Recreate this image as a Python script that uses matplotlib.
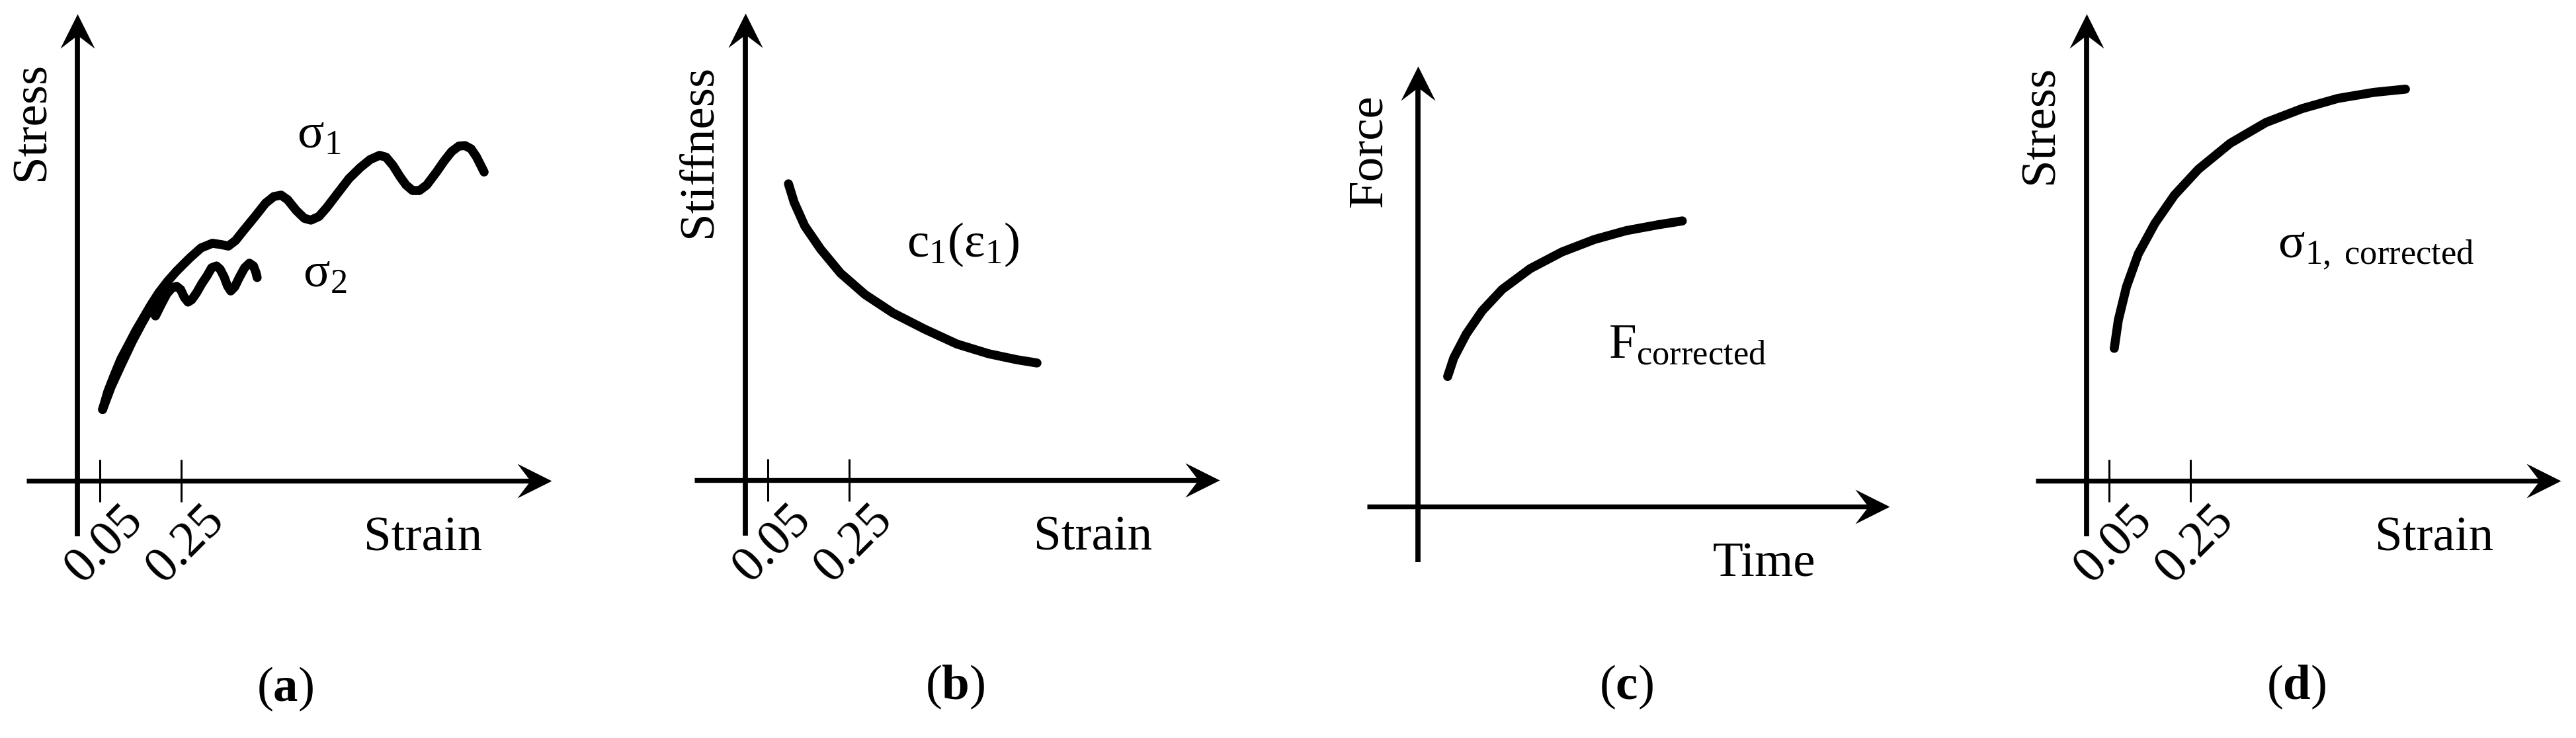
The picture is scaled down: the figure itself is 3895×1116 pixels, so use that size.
import matplotlib.pyplot as plt
from matplotlib.path import Path

plt.rcParams['font.family'] = 'Liberation Serif'
plt.rcParams['mathtext.fontset'] = 'custom'
plt.rcParams['mathtext.rm'] = 'Liberation Serif'
plt.rcParams['mathtext.it'] = 'Liberation Serif:italic'
plt.rcParams['mathtext.bf'] = 'Liberation Serif:bold'

# (a) raw stress-strain curves
strain_s1 = [0.056, 0.069, 0.085, 0.101, 0.118, 0.137, 0.157, 0.175, 0.194, 0.215,
             0.238, 0.270, 0.298, 0.326, 0.349, 0.365, 0.383, 0.401, 0.430, 0.457,
             0.477, 0.495, 0.511, 0.532, 0.552, 0.568, 0.588, 0.607, 0.633, 0.662,
             0.690, 0.714, 0.737, 0.753, 0.770, 0.788, 0.802, 0.818, 0.835, 0.853,
             0.877, 0.896, 0.914, 0.932, 0.947, 0.962, 0.975, 0.986, 0.994]
stress_s1 = [0.154, 0.193, 0.229, 0.263, 0.291, 0.323, 0.353, 0.380, 0.406, 0.430,
             0.453, 0.481, 0.503, 0.513, 0.510, 0.507, 0.519, 0.539, 0.570, 0.600,
             0.614, 0.617, 0.607, 0.584, 0.567, 0.563, 0.571, 0.590, 0.620, 0.653,
             0.677, 0.694, 0.703, 0.699, 0.681, 0.656, 0.639, 0.627, 0.627, 0.639,
             0.667, 0.691, 0.711, 0.723, 0.724, 0.717, 0.700, 0.681, 0.667]
strain_s2 = [0.056, 0.077, 0.101, 0.129, 0.152, 0.168, 0.176, 0.186, 0.199, 0.214,
             0.227, 0.238, 0.248, 0.257, 0.266, 0.275, 0.287, 0.300, 0.313, 0.324,
             0.336, 0.345, 0.355, 0.363, 0.371, 0.381, 0.392, 0.405, 0.417, 0.427,
             0.433, 0.436]
stress_s2 = [0.154, 0.203, 0.249, 0.301, 0.339, 0.364, 0.373, 0.356, 0.379, 0.404,
             0.417, 0.420, 0.413, 0.396, 0.386, 0.391, 0.406, 0.426, 0.443, 0.460,
             0.464, 0.457, 0.440, 0.421, 0.410, 0.419, 0.439, 0.460, 0.470, 0.464,
             0.450, 0.439]

# (b) stiffness
strain_c1 = [0.100, 0.114, 0.140, 0.179, 0.228, 0.288, 0.357, 0.435, 0.514, 0.592, 0.662, 0.711]
stiff_c1 = [0.640, 0.600, 0.549, 0.499, 0.447, 0.401, 0.361, 0.326, 0.294, 0.273, 0.260, 0.253]

# (c) corrected force
time_f = [0.073, 0.088, 0.119, 0.158, 0.207, 0.276, 0.354, 0.434, 0.512, 0.592, 0.650]
force_f = [0.281, 0.321, 0.373, 0.423, 0.469, 0.514, 0.550, 0.577, 0.596, 0.609, 0.617]

# (d) corrected stress
strain_s1c = [0.062, 0.072, 0.092, 0.121, 0.162, 0.210, 0.269, 0.347, 0.435, 0.524, 0.612, 0.700, 0.778]
stress_s1c = [0.286, 0.347, 0.419, 0.490, 0.556, 0.617, 0.673, 0.729, 0.774, 0.804, 0.826, 0.839, 0.846]

tick_vals = [0.05, 0.25]
tick_labels = ['0.05', '0.25']

W, H = 3895, 1116
SX, SY = 615.0, 700.0  # pixels per data unit

fig = plt.figure(figsize=(W / 100, H / 100), dpi=100)

head_right = Path([(0, 0), (-1, 0.5), (-0.62, 0), (-1, -0.5), (0, 0)],
                  [Path.MOVETO, Path.LINETO, Path.LINETO, Path.LINETO, Path.CLOSEPOLY])
head_up = Path([(0, 0), (0.5, -1), (0, -0.62), (-0.5, -1), (0, 0)],
               [Path.MOVETO, Path.LINETO, Path.LINETO, Path.LINETO, Path.CLOSEPOLY])


def panel(L, R, px, py, x_org):
    ax = fig.add_axes([L / W, 0, (R - L) / W, 1])
    ax.set_xlim(x_org + (L - px) / SX, x_org + (R - px) / SX)
    ax.set_ylim((py - H) / SY, py / SY)
    ax.axis('off')
    return ax


def axes_arrows(ax, x_org, y_top, ticks):
    ax.plot([x_org - 0.125, 1.16 - 0.04], [0, 0], color='k', lw=5.3, solid_capstyle='butt')
    ax.plot([1.16], [0], marker=head_right, ms=75, color='k', mew=0)
    ax.plot([x_org, x_org], [-0.12, y_top - 0.035], color='k', lw=5.6, solid_capstyle='butt')
    ax.plot([x_org], [y_top], marker=head_up, ms=75, color='k', mew=0)
    if ticks:
        ax.vlines(tick_vals, -0.046, 0.046, color='k', lw=2.2)
        for t, lab in zip(tick_vals, tick_labels):
            ax.text(t + 0.01, -0.137, lab, rotation=45, ha='center', va='center', fontsize=55)


fs = 54
curve = dict(color='k', lw=9.8, solid_capstyle='round', solid_joinstyle='round')

# (a)
ax = panel(0, 975, 117, 727, -0.006)
axes_arrows(ax, -0.006, 1.009, True)
ax.plot(strain_s2, stress_s2, **curve)
ax.plot(strain_s1, stress_s1, **curve)
ax.text(-0.117, 0.776, 'Stress', rotation=90, ha='center', va='center', fontsize=fs)
ax.text(0.844, -0.126, 'Strain', ha='center', va='center', fontsize=fs)
ax.text(0.588, 0.744, 'σ$_1$', ha='center', va='center', fontsize=fs)
ax.text(0.602, 0.444, 'σ$_2$', ha='center', va='center', fontsize=fs)
ax.text(0.505, -0.45, r'($\mathbf{a}$)', ha='center', va='center', fontsize=fs)

# (b)
ax = panel(975, 1950, 1127, 726, -0.006)
axes_arrows(ax, -0.006, 1.009, True)
ax.plot(strain_c1, stiff_c1, **curve)
ax.text(-0.121, 0.711, 'Stiffness', rotation=90, ha='center', va='center', fontsize=fs)
ax.text(0.849, -0.126, 'Strain', ha='center', va='center', fontsize=fs)
ax.text(0.529, 0.509, 'c$_1$(ε$_1$)', ha='center', va='center', fontsize=fs)
ax.text(0.509, -0.447, r'($\mathbf{b}$)', ha='center', va='center', fontsize=fs)

# (c)
ax = panel(1950, 2925, 2144, 766, 0.0)
axes_arrows(ax, 0.0, 0.951, False)
ax.plot(time_f, force_f, **curve)
ax.text(-0.119, 0.769, 'Force', rotation=90, ha='center', va='center', fontsize=fs)
ax.text(0.852, -0.126, 'Time', ha='center', va='center', fontsize=fs)
ax.text(0.662, 0.347, r'F$_{\mathrm{corrected}}$', ha='center', va='center', fontsize=fs)
ax.text(0.512, -0.39, r'($\mathbf{c}$)', ha='center', va='center', fontsize=fs)

# (d)
ax = panel(2925, 3895, 3155, 727, -0.006)
axes_arrows(ax, -0.006, 1.009, True)
ax.plot(strain_s1c, stress_s1c, **curve)
ax.text(-0.118, 0.769, 'Stress', rotation=90, ha='center', va='center', fontsize=fs)
ax.text(0.848, -0.126, 'Strain', ha='center', va='center', fontsize=fs)
ax.text(0.706, 0.5, r'σ$_{\mathrm{1,\ corrected}}$', ha='center', va='center', fontsize=fs)
ax.text(0.509, -0.446, r'($\mathbf{d}$)', ha='center', va='center', fontsize=fs)

fig.savefig('out.png', dpi=100)
